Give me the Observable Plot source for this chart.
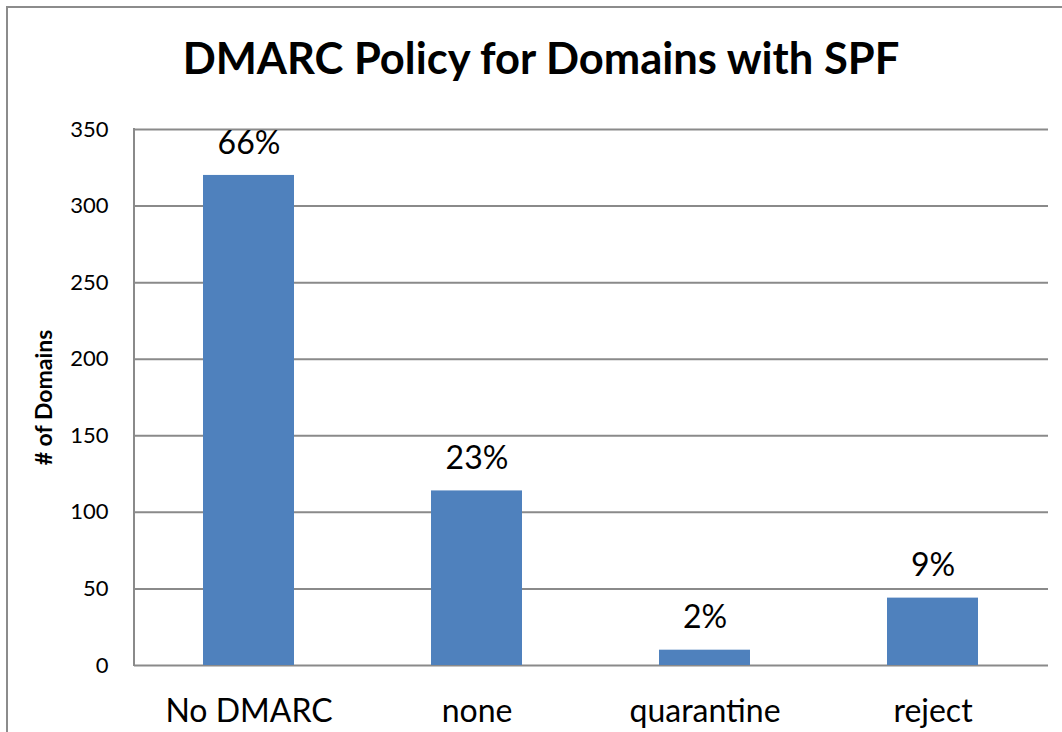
<!DOCTYPE html>
<html>
<head>
<meta charset="utf-8">
<script src="https://cdn.jsdelivr.net/npm/d3@7"></script>
<script src="https://cdn.jsdelivr.net/npm/@observablehq/plot@0.6"></script>
<style>
  html, body { margin: 0; padding: 0; background: #fff; overflow: hidden; }
  #wrap { position: relative; width: 1062px; height: 732px; overflow: hidden; }
  #border { position: absolute; left: 6px; top: 6px; width: 1200px; height: 900px; border-left: 2px solid #8c8c8c; border-top: 2px solid #8c8c8c; }
  #title { position: absolute; left: 0; width: 1082px; top: 32px; text-align: center; font-family: Lato, sans-serif; font-weight: bold; font-size: 43.5px; line-height: 50px; color: #000; }
  #chart { position: absolute; left: 0; top: 100px; }
</style>
</head>
<body>
<div id="wrap">
  <div id="border"></div>
  <div id="title">DMARC Policy for Domains with SPF</div>
  <div id="chart"></div>
</div>
<script>
const categories = ["No DMARC", "none", "quarantine", "reject"];
const counts = [320, 114, 10, 44];
const percentLabels = ["66%", "23%", "2%", "9%"];
const yTicks = [0, 50, 100, 150, 200, 250, 300, 350];

const data = categories.map((c, i) => ({category: c, count: counts[i], pct: percentLabels[i]}));

const leftAxisLine = (index, scales, values, dimensions) => {
  const {marginLeft, marginTop, height, marginBottom} = dimensions;
  const line = d3.create("svg:line")
    .attr("x1", marginLeft).attr("x2", marginLeft)
    .attr("y1", marginTop - 1).attr("y2", height - marginBottom + 1)
    .attr("stroke", "#8a8a8a").attr("stroke-width", 2);
  return line.node();
};

const chart = Plot.plot({
  width: 1062,
  height: 632,
  marginLeft: 134,
  marginRight: 14,
  marginTop: 29,
  marginBottom: 67,
  style: {fontFamily: "Lato, sans-serif", color: "#000", background: "transparent"},
  x: {domain: categories, paddingInner: 0.6, paddingOuter: 0.3, label: null},
  y: {domain: [0, 350], label: null},
  marks: [
    Plot.ruleY(yTicks, {stroke: "#8a8a8a", strokeWidth: 2}),
    Plot.barY(data, {x: "category", y: "count", fill: "#4f81bd"}),
    Plot.text(data, {x: "category", y: "count", text: "pct", dy: -32, fontSize: 32, fill: "#000"}),
    leftAxisLine,
    Plot.axisY({ticks: yTicks, tickSize: 0, tickPadding: 26, fontSize: 22, label: "# of Domains", labelAnchor: "center", labelOffset: 99, labelArrow: false}),
    Plot.axisX({tickSize: 0, tickPadding: 34, fontSize: 32, label: null})
  ]
});

d3.select(chart).selectAll("g[aria-label='y-axis label'] text")
  .style("font-weight", "bold").style("font-size", "23px");

document.getElementById("chart").appendChild(chart);
</script>
</body>
</html>
